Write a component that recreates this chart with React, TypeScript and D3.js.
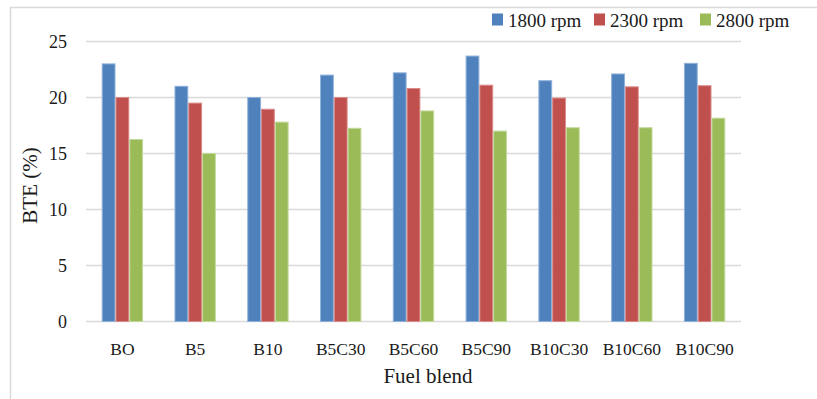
import React from "react";
import * as d3 from "d3";

// Fuel blends and brake thermal efficiency (%) at three engine speeds
const blends = ["BO", "B5", "B10", "B5C30", "B5C60", "B5C90", "B10C30", "B10C60", "B10C90"];
const speeds = ["1800 rpm", "2300 rpm", "2800 rpm"];
const bte1800 = [23.0, 21.0, 20.0, 22.0, 22.2, 23.7, 21.5, 22.1, 23.05];
const bte2300 = [20.0, 19.5, 18.95, 20.0, 20.8, 21.1, 19.95, 20.95, 21.05];
const bte2800 = [16.25, 15.0, 17.8, 17.25, 18.8, 17.0, 17.3, 17.3, 18.15];
const yTicks = [0, 5, 10, 15, 20, 25];

const series = [bte1800, bte2300, bte2800];
const colors = ["#4F81BD", "#C0504D", "#9BBB59"];
const edges = ["#8FB0DA", "#DA8A88", "#C2D99A"];

const W = 817;
const H = 399;
const plot = { left: 86, right: 741, top: 41.5, bottom: 321.5 };
const font = "'Liberation Serif', 'Times New Roman', serif";

export default function App() {
  const x = d3.scaleBand<string>().domain(blends).range([plot.left, plot.right]).padding(0);
  const xs = d3
    .scaleBand<number>()
    .domain([0, 1, 2])
    .range([0, x.bandwidth()])
    .paddingInner(0)
    .paddingOuter(1.14);
  const y = d3.scaleLinear().domain([0, 25]).range([plot.bottom, plot.top]);

  const legendX = [492, 594, 700];

  return (
    <svg
      width={W}
      height={H}
      style={{ position: "fixed", left: 0, top: 0, background: "#fff" }}
      fontFamily={font}
    >
      <rect x={0} y={0} width={W} height={H} fill="#fff" />
      {/* chart frame */}
      <path d={`M10.5,${H + 2} V7.5 H${W + 2}`} fill="none" stroke="#d9d9d9" strokeWidth={1.5} />

      {/* gridlines */}
      {yTicks.map((t) => (
        <line
          key={t}
          x1={plot.left}
          x2={plot.right}
          y1={y(t)}
          y2={y(t)}
          stroke="#d9d9d9"
          strokeWidth={1.5}
        />
      ))}

      {/* y tick labels */}
      {yTicks.map((t) => (
        <text
          key={t}
          x={67}
          y={y(t)}
          textAnchor="end"
          dominantBaseline="central"
          fontSize={18}
          fill="#1a1a1a"
        >
          {t}
        </text>
      ))}

      {/* bars */}
      {blends.map((b, i) => (
        <g key={b} transform={`translate(${x(b)},0)`}>
          {series.map((s, k) => (
            <rect
              key={k}
              x={(xs(k) as number) + 0.5}
              y={y(s[i])}
              width={xs.bandwidth() - 1}
              height={y(0) - y(s[i])}
              fill={colors[k]}
              stroke={edges[k]}
              strokeWidth={1}
            />
          ))}
        </g>
      ))}

      {/* category labels */}
      {blends.map((b) => (
        <text
          key={b}
          x={(x(b) as number) + x.bandwidth() / 2}
          y={349}
          textAnchor="middle"
          dominantBaseline="central"
          fontSize={17.5}
          fill="#1a1a1a"
        >
          {b}
        </text>
      ))}

      {/* axis titles */}
      <text x={428} y={376} textAnchor="middle" dominantBaseline="central" fontSize={21} fill="#1a1a1a">
        Fuel blend
      </text>
      <text
        transform={`translate(30,${y(12.5) + 4}) rotate(-90)`}
        textAnchor="middle"
        dominantBaseline="central"
        fontSize={21}
        fill="#1a1a1a"
      >
        BTE (%)
      </text>

      {/* legend */}
      {speeds.map((s, k) => (
        <g key={s} transform={`translate(${legendX[k]},13.5)`}>
          <rect x={0} y={0} width={11} height={12} fill={colors[k]} />
          <text x={16} y={6.5} dominantBaseline="central" fontSize={19} fill="#1a1a1a">
            {s}
          </text>
        </g>
      ))}
    </svg>
  );
}
